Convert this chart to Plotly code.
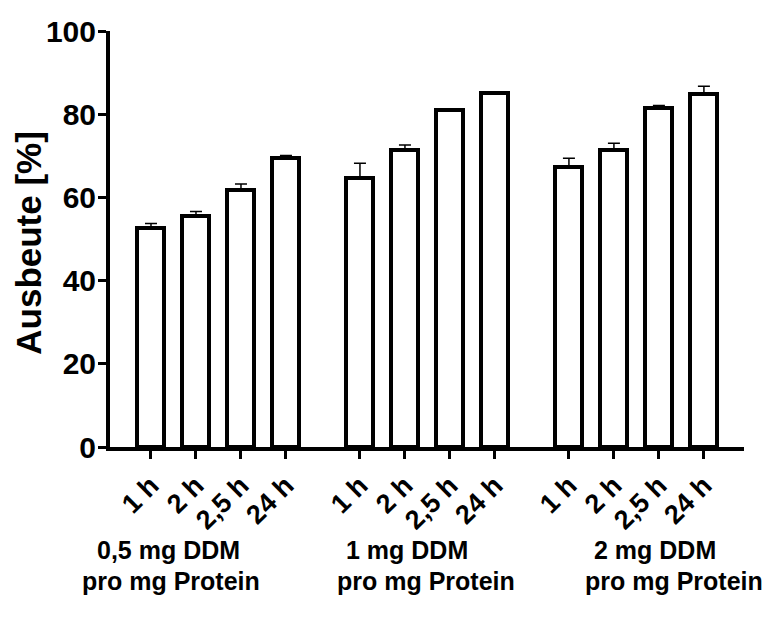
import plotly.graph_objects as go

groups = ["0,5 mg DDM", "1 mg DDM", "2 mg DDM"]
group_sub = ["pro mg Protein", "pro mg Protein", "pro mg Protein"]
times = ["1 h", "2 h", "2,5 h", "24 h"]
yield_05 = [52.7, 55.6, 61.8, 69.5]
err_05 = [1.0, 1.0, 1.4, 0.6]
yield_1 = [64.6, 71.5, 81.0, 85.0]
err_1 = [3.6, 1.1, 0.3, 0.3]
yield_2 = [67.2, 71.5, 81.5, 84.9]
err_2 = [2.2, 1.5, 0.6, 1.8]
y_ticks = [0, 20, 40, 60, 80, 100]
y_title = "Ausbeute [%]"

values = [yield_05, yield_1, yield_2]
errors = [err_05, err_1, err_2]

GAP = 74.0 / 45.0  # distance between last bar of a group and first bar of next
xs, ys, es, labels = [], [], [], []
start = 0.0
for gi in range(len(groups)):
    for ti, t in enumerate(times):
        xs.append(start + ti)
        ys.append(values[gi][ti])
        es.append(errors[gi][ti])
        labels.append(t)
    start += len(times) - 1 + GAP

fig = go.Figure()
fig.add_trace(go.Bar(
    x=xs, y=ys, width=0.6,
    marker=dict(color="white", line=dict(color="black", width=4)),
    error_y=dict(type="data", array=es, arrayminus=[0] * len(es), symmetric=False,
                 color="black", thickness=1.5, width=6),
    showlegend=False,
))

L, R, T, B = 110, 32, 31, 180.5
W, H = 776, 628
pw = W - L - R
ph = H - T - B
FONT = "Liberation Sans, Arial, sans-serif"

fig.update_layout(
    width=W, height=H,
    margin=dict(l=L, r=R, t=T, b=B, pad=0),
    plot_bgcolor="white", paper_bgcolor="white",
    font=dict(family=FONT, color="black"),
    bargap=0,
)
fig.update_xaxes(
    range=[-0.911, 13.18],
    tickvals=xs, ticktext=labels, tickangle=-45,
    tickfont=dict(size=27, family=FONT, weight="bold"),
    showline=True, linecolor="black", linewidth=4,
    ticks="outside", ticklen=8, tickwidth=3, tickcolor="black",
    showgrid=False, zeroline=False,
)
fig.update_yaxes(
    range=[0, 100], tickvals=y_ticks,
    tickfont=dict(size=30, family=FONT, weight="bold"),
    showline=True, linecolor="black", linewidth=4,
    ticks="outside", ticklen=8, tickwidth=3, tickcolor="black",
    ticklabelstandoff=-4,
    showgrid=False, zeroline=False,
)

def px_x(p):
    return (p - L) / pw

def px_y(p):
    return (H - B - p) / ph

fig.add_annotation(x=px_x(29), y=px_y(243), xref="paper", yref="paper",
                   text=y_title, textangle=-90, showarrow=False,
                   xanchor="center", yanchor="middle",
                   font=dict(size=35, family=FONT, weight="bold"))

line1_px = [168, 407, 655]
line2_px = [171, 426, 674]
for gi in range(len(groups)):
    fig.add_annotation(x=px_x(line1_px[gi]), y=px_y(551), xref="paper", yref="paper",
                       text=groups[gi], showarrow=False, yanchor="middle", xanchor="center",
                       font=dict(size=25, family=FONT, weight="bold"))
    fig.add_annotation(x=px_x(line2_px[gi]), y=px_y(582), xref="paper", yref="paper",
                       text=group_sub[gi], showarrow=False, yanchor="middle", xanchor="center",
                       font=dict(size=25, family=FONT, weight="bold"))

fig.write_html("out.html")
